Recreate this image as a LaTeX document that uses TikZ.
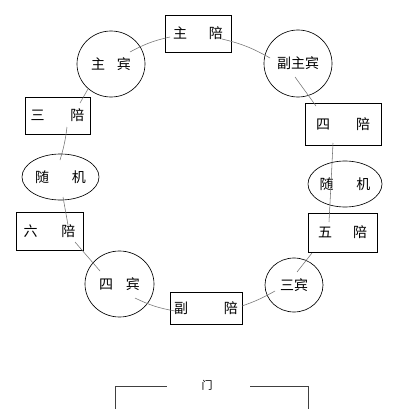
\documentclass[tikz,border=0pt]{standalone}
\usepackage{fontspec}
\newfontfamily\cjk{Noto Sans CJK SC}
\usetikzlibrary{shapes.geometric,calc}
\begin{document}
\begin{tikzpicture}[x=1pt,y=-1pt,
  every node/.style={font=\cjk\fontsize{14}{14}\selectfont, inner sep=0pt},
  seatbox/.style={draw=black, line width=0.75pt, rectangle},
  guest/.style={draw=black, line width=0.65pt, ellipse},
  link/.style={draw=black!55, line width=0.55pt},
  doorline/.style={draw=black!75, line width=0.6pt}]
\useasboundingbox (0,0) rectangle (400,409);
\fill[white] (0,0) rectangle (400,409);
% seats
\node[seatbox, minimum width=66pt, minimum height=37pt] (zp) at (198,33.5) {主\hspace{22pt}陪};
\node[guest, minimum width=68pt, minimum height=66pt] (zb) at (111,64) {主\hspace{12pt}宾};
\node[guest, minimum width=68pt, minimum height=67pt] (fzb) at (298,63.5) {副主宾};
\node[seatbox, minimum width=65pt, minimum height=37pt] (s3) at (57.5,115.5) {三\hspace{26pt}陪};
\node[seatbox, minimum width=76pt, minimum height=42pt] (s4) at (343,124) {四\hspace{26pt}陪};
\node[guest, minimum width=77pt, minimum height=46pt] (sjL) at (60.5,177) {随\hspace{23pt}机};
\node[guest, minimum width=74pt, minimum height=46pt] (sjR) at (345,184) {随\hspace{23pt}机};
\node[seatbox, minimum width=67pt, minimum height=38pt] (s6) at (49.5,231) {六\hspace{24pt}陪};
\node[seatbox, minimum width=69pt, minimum height=39pt] (s5) at (342.5,232.5) {五\hspace{21pt}陪};
\node[guest, minimum width=69pt, minimum height=66pt] (b4) at (119.5,284) {四\hspace{13pt}宾};
\node[guest, minimum width=58pt, minimum height=54pt] (b3) at (294,285) {三宾};
\node[seatbox, minimum width=72pt, minimum height=32pt] (fp) at (206,308) {副\hspace{36pt}陪};
\node[font=\cjk\fontsize{11}{11}\selectfont] (men) at (207,385) {门};
% connectors
\draw[link] ($(zb)+(19,-12)$) to[bend left=8] ($(zp)+(-28,3.5)$);
\draw[link] ($(zp)+(24,5.5)$) to[bend left=8] ($(fzb)+(-28,-5.5)$);
\draw[link] ($(fzb)+(-3,13.5)$) -- ($(s4)+(-27,-18)$);
\draw[link] ($(zb)+(-23,25)$) -- ($(s3)+(22.5,-12.5)$);
\draw[link] ($(s3)+(9.5,11.5)$) to[bend left=5] ($(sjL)+(-0.5,-17)$);
\draw[link] ($(sjL)+(2.5,20)$) -- ($(s6)+(18.5,-6)$);
\draw[link] ($(s6)+(25.5,11)$) -- ($(b4)+(-19.5,-13)$);
\draw[link] ($(b4)+(15.5,14)$) to[bend right=8] ($(fp)+(-31,3)$);
\draw[link] ($(fp)+(36,-2)$) to[bend right=5] ($(b3)+(-19,6)$);
\draw[link] ($(b3)+(3,-13)$) -- ($(s5)+(-30.5,20.5)$);
\draw[link] ($(s4)+(-10,19)$) -- ($(sjR)+(-14,0)$) -- ($(s5)+(-13.5,-10.5)$);
% door
\draw[doorline] (115,409) -- (115,386) -- (167,386);
\draw[doorline] (250,386) -- (308,386) -- (308,409);
\end{tikzpicture}
\end{document}
